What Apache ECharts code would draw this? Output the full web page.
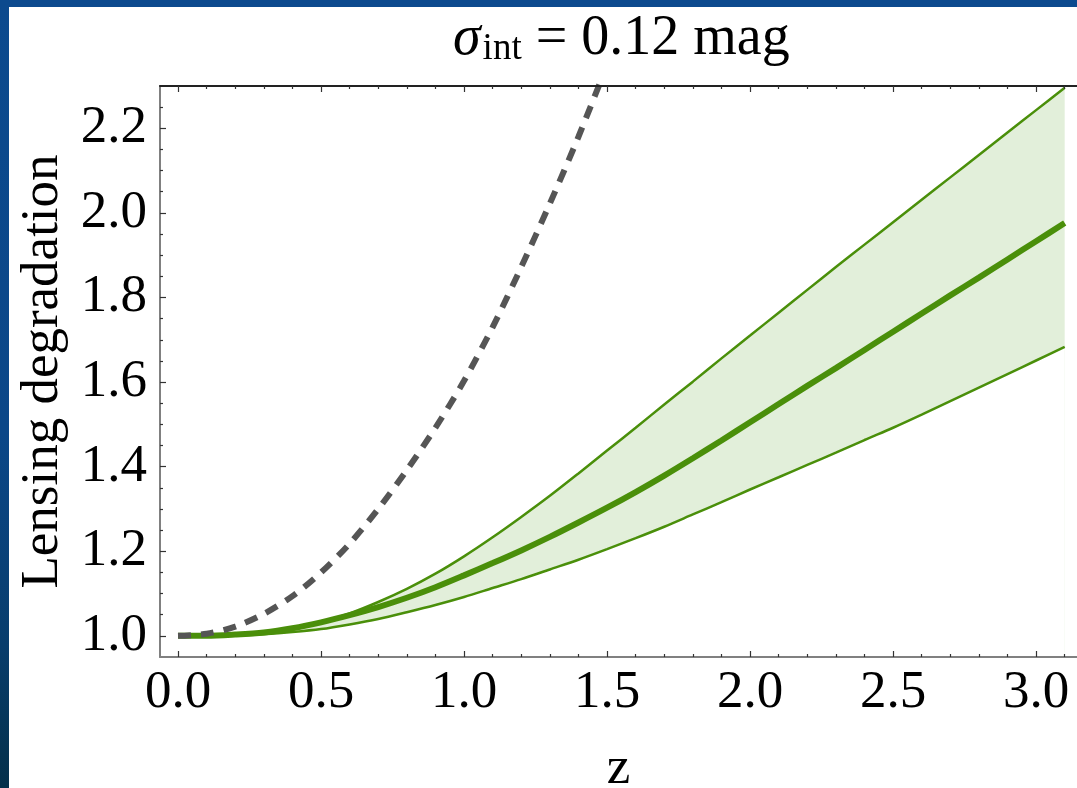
<!DOCTYPE html>
<html><head><meta charset="utf-8">
<script src="https://cdn.jsdelivr.net/npm/echarts@6/dist/echarts.min.js"></script>
<style>
html,body{margin:0;padding:0;width:1077px;height:788px;overflow:hidden;
background:linear-gradient(180deg,#0c4a8e 0%,#0b4788 55%,#083d6c 82%,#04304a 100%);}
#c{position:absolute;left:9px;top:7px;width:1068px;height:781px;background:#fff;}
</style></head><body><div id="c"></div>
<script>
// Redshift grid for the lensing band (upper / median / lower)
const zBand = [0.0,0.1,0.2,0.3,0.4,0.5,0.6,0.7,0.8,0.9,1.0,1.1,1.2,1.3,1.4,1.5,1.6,1.7,1.8,1.9,2.0,2.1,2.2,2.3,2.4,2.5,2.6,2.7,2.8,2.9,3.0,3.1];
const upperVals  = [1.000,1.000,1.002,1.007,1.017,1.032,1.053,1.080,1.111,1.147,1.188,1.233,1.281,1.331,1.384,1.438,1.492,1.547,1.601,1.656,1.710,1.764,1.818,1.872,1.925,1.978,2.031,2.084,2.137,2.190,2.243,2.296];
const centerVals = [1.000,1.000,1.003,1.008,1.018,1.032,1.049,1.068,1.090,1.115,1.143,1.172,1.202,1.234,1.268,1.303,1.340,1.379,1.420,1.462,1.505,1.548,1.591,1.633,1.676,1.719,1.762,1.805,1.847,1.890,1.933,1.976];
const lowerVals  = [1.000,1.000,1.001,1.004,1.009,1.016,1.027,1.040,1.056,1.073,1.092,1.113,1.134,1.157,1.180,1.205,1.231,1.258,1.287,1.316,1.346,1.375,1.404,1.433,1.463,1.492,1.523,1.555,1.587,1.619,1.651,1.683];
// Dashed gray curve
const zDash = [0, 0.1, 0.2, 0.3, 0.4, 0.5, 0.6, 0.7, 0.8, 0.9, 1.0, 1.1, 1.2, 1.3, 1.4, 1.5];
const dashVals = [1.000, 1.005, 1.022, 1.052, 1.094, 1.150, 1.218, 1.300, 1.392, 1.492, 1.603, 1.730, 1.872, 2.022, 2.180, 2.350];
// Ticks
const xTickLabels = [0, 0.5, 1.0, 1.5, 2.0, 2.5, 3.0];
const xMinorTicks = [0.1,0.2,0.3,0.4,0.6,0.7,0.8,0.9,1.1,1.2,1.3,1.4,1.6,1.7,1.8,1.9,2.1,2.2,2.3,2.4,2.6,2.7,2.8,2.9,3.1];
const yTickLabels = [1.0, 1.2, 1.4, 1.6, 1.8, 2.0, 2.2];
const yMinorTicks = [1.05,1.1,1.15,1.25,1.3,1.35,1.45,1.5,1.55,1.65,1.7,1.75,1.85,1.9,1.95,2.05,2.1,2.15,2.25];

const FONT = 'Liberation Serif';
const GREEN = '#4a8f0a';
const X_MIN = -0.063, X_MAX = 3.143, Y_MIN = 0.95, Y_MAX = 2.30;

const chart = echarts.init(document.getElementById('c'));
const pair = (xs, ys) => xs.map((x, i) => [x, ys[i]]);

function xAx(pos, ticks, len, opts) {
  return Object.assign({
    type: 'value', position: pos, min: X_MIN, max: X_MAX, z: 10,
    axisLine: { show: false, onZero: false },
    axisTick: { show: true, inside: true, length: len, customValues: ticks, lineStyle: { color: '#333', width: 1.2 } },
    axisLabel: { show: false },
    splitLine: { show: false }
  }, opts || {});
}
function yAx(pos, ticks, len, opts) {
  return Object.assign({
    type: 'value', position: pos, min: Y_MIN, max: Y_MAX, z: 10,
    axisLine: { show: false, onZero: false },
    axisTick: { show: true, inside: true, length: len, customValues: ticks, lineStyle: { color: '#333', width: 1.2 } },
    axisLabel: { show: false },
    splitLine: { show: false }
  }, opts || {});
}

const option = {
  animation: false,
  backgroundColor: '#fff',
  title: {
    left: 439, top: -1,
    text: '{s|σ}{sub|int}{n| = 0.12 mag}',
    textStyle: {
      fontWeight: 'normal',
      rich: {
        s: { fontFamily: FONT, fontStyle: 'italic', fontWeight: 'normal', fontSize: 56, color: '#000' },
        sub: { fontFamily: FONT, fontWeight: 'normal', fontSize: 37, color: '#000', padding: [20, 0, 0, 2] },
        n: { fontFamily: FONT, fontWeight: 'normal', fontSize: 56, color: '#000' }
      }
    }
  },
  grid: { left: 151, top: 79, right: 0, bottom: 131, containLabel: false, outerBoundsMode: 'none' },
  xAxis: [
    xAx('bottom', xTickLabels, 6, {
      axisLine: { show: true, onZero: false, lineStyle: { color: '#808080', width: 2 } },
      axisLabel: { show: true, customValues: xTickLabels, formatter: v => v.toFixed(1),
        fontFamily: FONT, fontSize: 53, color: '#000', margin: 10 },
      name: 'z', nameLocation: 'middle', nameGap: 86,
      nameTextStyle: { fontFamily: FONT, fontSize: 53, color: '#000' }
    }),
    xAx('bottom', xMinorTicks, 3),
    xAx('top', xTickLabels, 6, { axisLine: { show: true, onZero: false, lineStyle: { color: '#222', width: 2 } } }),
    xAx('top', xMinorTicks, 3)
  ],
  yAxis: [
    yAx('left', yTickLabels, 6, {
      axisLine: { show: true, onZero: false, lineStyle: { color: '#808080', width: 2 } },
      axisLabel: { show: true, customValues: yTickLabels, formatter: v => v.toFixed(1),
        fontFamily: FONT, fontSize: 53, color: '#000', margin: 13 },
      name: 'Lensing degradation', nameLocation: 'middle', nameGap: 90, nameRotate: 90,
      nameTextStyle: { fontFamily: FONT, fontSize: 53, color: '#000' }
    }),
    yAx('left', yMinorTicks, 3)
  ],
  series: [
    { type: 'line', name: 'upper', data: pair(zBand, upperVals), smooth: 0.3, symbol: 'none',
      lineStyle: { color: GREEN, width: 2.5 },
      areaStyle: { color: '#e2efda', opacity: 1, origin: 'start' }, z: 2 },
    { type: 'line', name: 'lower', data: pair(zBand, lowerVals), smooth: 0.3, symbol: 'none',
      lineStyle: { color: GREEN, width: 2.5 },
      areaStyle: { color: '#ffffff', opacity: 1, origin: 'start' }, z: 3 },
    { type: 'line', name: 'median', data: pair(zBand, centerVals), smooth: 0.3, symbol: 'none',
      lineStyle: { color: GREEN, width: 6 }, z: 4 },
    { type: 'line', name: 'dashed', data: pair(zDash, dashVals), smooth: 0.3, symbol: 'none',
      lineStyle: { color: '#555555', width: 6, type: [13, 10] }, z: 5 }
  ]
};
chart.setOption(option);
</script></body></html>
